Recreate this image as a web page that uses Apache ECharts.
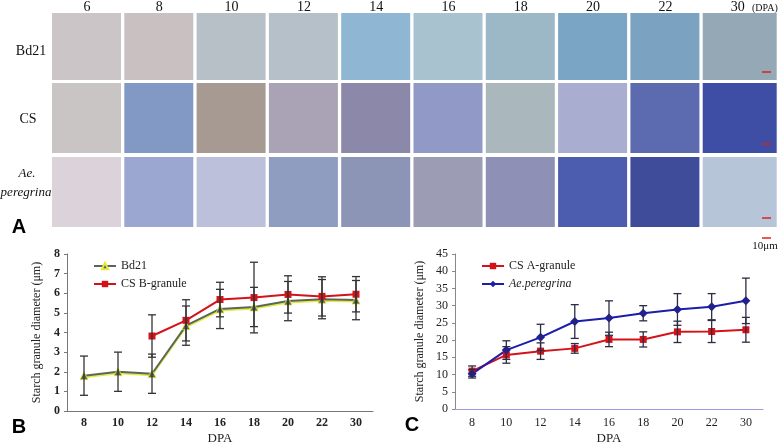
<!DOCTYPE html>
<html>
<head>
<meta charset="utf-8">
<script src="https://cdn.jsdelivr.net/npm/echarts/dist/echarts.min.js"></script>
<style>
  html,body{margin:0;padding:0;background:#fff;}
  .main{width:778px;height:443px;}
</style>
</head>
<body>
<div class="main"></div>
<script>
// DPA categories for both charts
var dpa = ['8','10','12','14','16','18','20','22','30'];

// panel B: small granules (means and SD)
var bd21    = [1.8, 2.0, 1.9, 4.35, 5.2, 5.3, 5.6, 5.7, 5.65];
var bd21Err = [1.0, 1.0, 1.0, 1.0, 1.0, 1.0, 1.0, 1.0, 1.0];
var csB     = [null, null, 3.82, 4.62, 5.68, 5.78, 5.94, 5.84, 5.95];
var csBErr  = [null, null, 1.08, 1.05, 0.88, 1.8, 0.95, 1.0, 0.9];

// panel C: large granules
var csA      = [11.0, 15.7, 16.8, 17.6, 20.2, 20.2, 22.4, 22.5, 23.0];
var csAErr   = [1.5, 2.4, 2.4, 1.4, 2.1, 2.2, 3.1, 3.2, 3.6];
var aePer    = [10.2, 17.1, 20.8, 25.4, 26.4, 27.8, 28.9, 29.7, 31.4];
var aePerErr = [1.2, 2.7, 3.8, 4.9, 5.0, 2.2, 4.6, 3.8, 6.6];

// panel A: micrograph grid headings
var topDpa = ['6','8','10','12','14','16','18','20','22','30'];
var rowNames = ['Bd21', 'CS', 'Ae. peregrina'];
// rough average tint of every micrograph tile (row by row)
var tileColors = [
  ['#cbc5c7','#c9c1c1','#b7c0c7','#b6c0c8','#8fb7d4','#a8c2cf','#9cb8c6','#7aa5c4','#7ba2c1','#94a9b5'],
  ['#c9c5c4','#8299c6','#a79a92','#aaa3b6','#8c88aa','#9199c6','#aab7bc','#a9add0','#5c6bb0','#3f4ea5'],
  ['#dbd3d9','#9ca7d1','#bcc0da','#8f9dc0','#8c95b5','#9d9cb5','#8f90b5','#4c5db0','#3e4c9a','#b7c5d9']
];

var serif = 'Liberation Serif';

function errData(mean, err){
  var out = [];
  for (var i = 0; i < mean.length; i++){
    if (mean[i] == null) continue;
    out.push([i, mean[i] - err[i], mean[i] + err[i]]);
  }
  return out;
}

function errBars(color){
  return function(params, api){
    var x = api.value(0);
    var lo = api.coord([x, api.value(1)]);
    var hi = api.coord([x, api.value(2)]);
    var w = 4;
    var st = {stroke: color, lineWidth: 1.3};
    return {type: 'group', children: [
      {type: 'line', shape: {x1: lo[0], y1: lo[1], x2: hi[0], y2: hi[1]}, style: st},
      {type: 'line', shape: {x1: lo[0]-w, y1: lo[1], x2: lo[0]+w, y2: lo[1]}, style: st},
      {type: 'line', shape: {x1: hi[0]-w, y1: hi[1], x2: hi[0]+w, y2: hi[1]}, style: st}
    ]};
  };
}

// micrograph stand-ins
var gfx = [];
for (var r = 0; r < 3; r++){
  for (var c = 0; c < 10; c++){
    var left = 52 + c * 72.3;
    gfx.push({type: 'rect', silent: true,
      shape: {x: left, y: [13, 83, 157][r], width: c === 9 ? 74 : 69, height: r === 0 ? 67 : 70},
      style: {fill: tileColors[r][c]}});
  }
}
for (var k = 0; k < topDpa.length; k++){
  gfx.push({type: 'text', x: 52 + k * 72.3 + 35, y: 7,
    style: {text: topDpa[k], font: '14px ' + serif, fill: '#111', textAlign: 'center', textVerticalAlign: 'middle'}});
}
gfx.push({type: 'text', x: 752, y: 8,
  style: {text: '(DPA)', font: '10px ' + serif, fill: '#111', textAlign: 'left', textVerticalAlign: 'middle'}});
gfx.push({type: 'text', x: 31, y: 51,
  style: {text: rowNames[0], font: '14px ' + serif, fill: '#111', textAlign: 'center', textVerticalAlign: 'middle'}});
gfx.push({type: 'text', x: 28, y: 119,
  style: {text: rowNames[1], font: '14px ' + serif, fill: '#111', textAlign: 'center', textVerticalAlign: 'middle'}});
gfx.push({type: 'text', x: 27, y: 174,
  style: {text: 'Ae.', font: 'italic 13px ' + serif, fill: '#111', textAlign: 'center', textVerticalAlign: 'middle'}});
gfx.push({type: 'text', x: 26, y: 193,
  style: {text: 'peregrina', font: 'italic 13px ' + serif, fill: '#111', textAlign: 'center', textVerticalAlign: 'middle'}});
// scale bars
[72, 144, 218, 238].forEach(function(yy){
  gfx.push({type: 'line', shape: {x1: 762, y1: yy, x2: 771, y2: yy}, style: {stroke: '#e0201c', lineWidth: 1.5}});
});
gfx.push({type: 'text', x: 765, y: 246,
  style: {text: '10μm', font: '11px ' + serif, fill: '#111', textAlign: 'center', textVerticalAlign: 'middle'}});
// panel letters
[['A', 19, 227], ['B', 19, 427], ['C', 412, 425]].forEach(function(p){
  gfx.push({type: 'text', x: p[1], y: p[2],
    style: {text: p[0], font: 'bold 20px Liberation Sans', fill: '#000', textAlign: 'center', textVerticalAlign: 'middle'}});
});

var myChart = echarts.init(document.querySelector('.main'));
var option = {
  animation: false,
  graphic: gfx,
  grid: [
    {left: 67, top: 254, width: 306, height: 157, containLabel: false, outerBoundsMode: 'none'},
    {left: 455, top: 254, width: 308, height: 155, containLabel: false, outerBoundsMode: 'none'}
  ],
  legend: [
    {data: ['Bd21', 'CS B-granule'], orient: 'vertical', left: 88, top: 255,
      itemWidth: 22, itemHeight: 8, itemGap: 6,
      textStyle: {fontFamily: serif, fontSize: 12, color: '#222'}},
    {data: ['CS A-granule', 'Ae.peregrina'], orient: 'vertical', left: 476, top: 255,
      itemWidth: 22, itemHeight: 8, itemGap: 6,
      formatter: function(n){ return n === 'Ae.peregrina' ? '{i|' + n + '}' : n; },
      textStyle: {fontFamily: serif, fontSize: 12, color: '#222',
        rich: {i: {fontStyle: 'italic', fontFamily: serif, fontSize: 12, color: '#222'}}}}
  ],
  xAxis: [
    {gridIndex: 0, type: 'category', data: dpa,
      axisLine: {lineStyle: {color: '#777'}}, axisTick: {show: false},
      axisLabel: {fontFamily: serif, fontWeight: 'bold', fontSize: 12, color: '#222', margin: 6},
      name: 'DPA', nameLocation: 'middle', nameGap: 21,
      nameTextStyle: {fontFamily: serif, fontSize: 13, color: '#222'}},
    {gridIndex: 1, type: 'category', data: dpa,
      axisLine: {lineStyle: {color: '#9a9ae0'}}, axisTick: {show: false},
      axisLabel: {fontFamily: serif, fontSize: 12, color: '#222', margin: 8},
      name: 'DPA', nameLocation: 'middle', nameGap: 23,
      nameTextStyle: {fontFamily: serif, fontSize: 13, color: '#222'}}
  ],
  yAxis: [
    {gridIndex: 0, type: 'value', min: 0, max: 8, interval: 1,
      splitLine: {show: false},
      axisLine: {show: true, lineStyle: {color: '#777'}},
      axisTick: {show: true, length: 3, lineStyle: {color: '#777'}},
      axisLabel: {fontFamily: serif, fontWeight: 'bold', fontSize: 12, color: '#222', margin: 7},
      name: 'Starch granule diameter (μm)', nameLocation: 'middle', nameGap: 24,
      nameTextStyle: {fontFamily: serif, fontSize: 12, color: '#222'}},
    {gridIndex: 1, type: 'value', min: 0, max: 45, interval: 5,
      splitLine: {show: false},
      axisLine: {show: true, lineStyle: {color: '#888'}},
      axisTick: {show: true, length: 3, lineStyle: {color: '#888'}},
      axisLabel: {fontFamily: serif, fontSize: 12, color: '#222', margin: 7},
      name: 'Starch granule diameter (μm)', nameLocation: 'middle', nameGap: 29,
      nameTextStyle: {fontFamily: serif, fontSize: 12, color: '#222'}}
  ],
  series: [
    {name: 'Bd21', type: 'line', xAxisIndex: 0, yAxisIndex: 0, data: bd21,
      symbol: 'triangle', symbolSize: 8, color: '#56685a',
      lineStyle: {width: 2, shadowColor: '#e8e840', shadowOffsetY: 1.5},
      itemStyle: {borderColor: '#e8e840', borderWidth: 0.8}, z: 3},
    {name: 'CS B-granule', type: 'line', xAxisIndex: 0, yAxisIndex: 0, data: csB,
      symbol: 'rect', symbolSize: 7, color: '#d4121a',
      lineStyle: {width: 2}, z: 3},
    {type: 'custom', xAxisIndex: 0, yAxisIndex: 0, data: errData(bd21, bd21Err),
      renderItem: errBars('#333'), silent: true, z: 4},
    {type: 'custom', xAxisIndex: 0, yAxisIndex: 0, data: errData(csB, csBErr),
      renderItem: errBars('#333'), silent: true, z: 4},
    {name: 'CS A-granule', type: 'line', xAxisIndex: 1, yAxisIndex: 1, data: csA,
      symbol: 'rect', symbolSize: 7, color: '#d4121a',
      lineStyle: {width: 2}, z: 3},
    {name: 'Ae.peregrina', type: 'line', xAxisIndex: 1, yAxisIndex: 1, data: aePer,
      symbol: 'diamond', symbolSize: 9, color: '#1d1da8',
      lineStyle: {width: 2}, z: 3},
    {type: 'custom', xAxisIndex: 1, yAxisIndex: 1, data: errData(csA, csAErr),
      renderItem: errBars('#2c2c44'), silent: true, z: 4},
    {type: 'custom', xAxisIndex: 1, yAxisIndex: 1, data: errData(aePer, aePerErr),
      renderItem: errBars('#2c2c44'), silent: true, z: 4}
  ]
};
myChart.setOption(option);
</script>
</body>
</html>
